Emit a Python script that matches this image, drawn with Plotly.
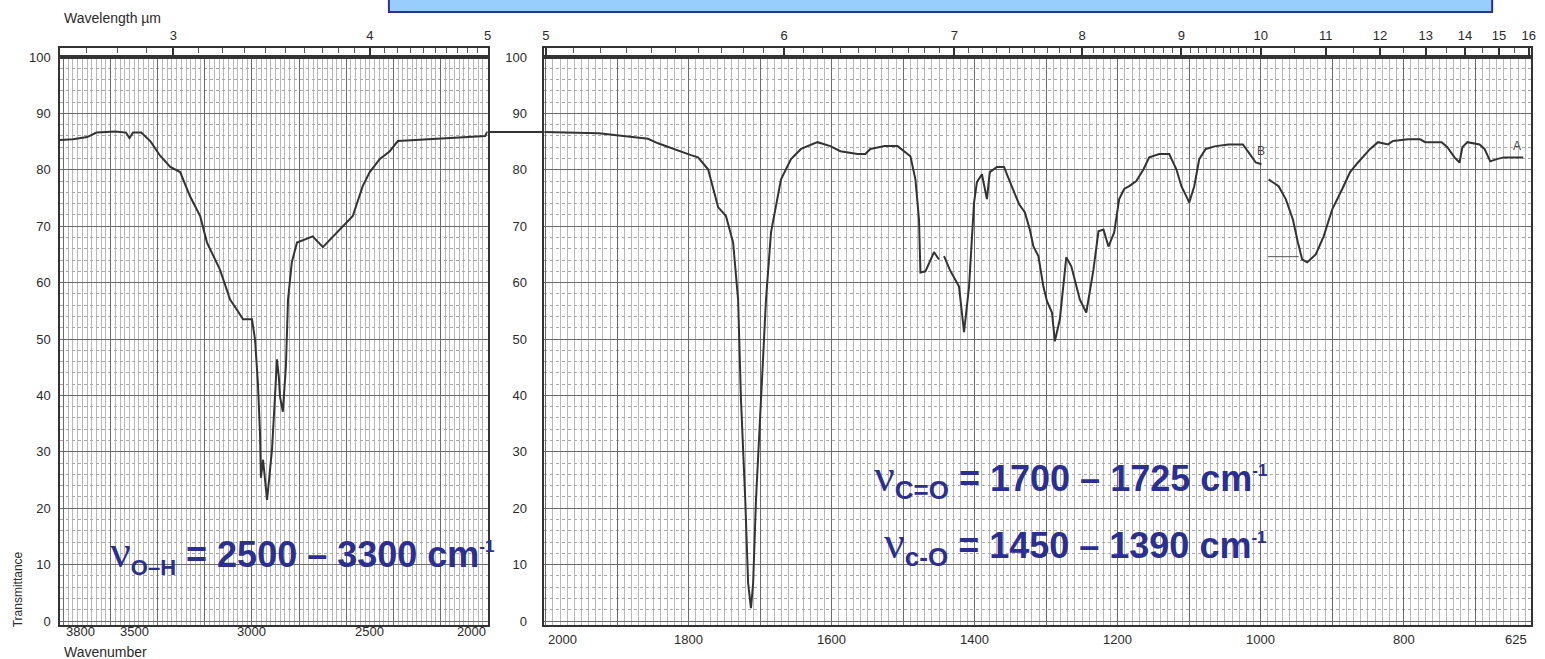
import plotly.graph_objects as go

# ---------------- data ----------------
# Left panel: 3815 - 2000 cm-1
left_wn = [3815, 3760, 3700, 3660, 3580, 3535, 3520, 3505, 3470, 3430, 3390, 3347,
           3305, 3263, 3220, 3191, 3136, 3093, 3064, 3038, 3000, 2987, 2975, 2966,
           2962, 2953, 2936, 2915, 2903, 2894, 2886, 2881, 2869, 2856, 2847, 2831,
           2809, 2742, 2699, 2640, 2572, 2530, 2500, 2458, 2415, 2381, 2174, 2010, 2002]
left_T = [85.3, 85.4, 85.8, 86.6, 86.8, 86.6, 85.6, 86.6, 86.6, 85.0, 82.5, 80.5,
          79.6, 75.3, 71.8, 67.1, 62.3, 57.0, 55.2, 53.5, 53.5, 49.9, 42.3, 33.4,
          25.4, 28.6, 21.5, 30.4, 39.3, 46.4, 43.3, 39.8, 37.1, 45.1, 57.0, 63.6,
          67.1, 68.2, 66.3, 68.9, 71.8, 77.1, 79.6, 81.9, 83.3, 85.1, 85.6, 86.0, 86.7]

# Right panel: 2000 - 625 cm-1 (None = pen breaks)
right_wn = [2002, 1926, 1857, 1843, 1797, 1787, 1773, 1766, 1759, 1748, 1738, 1731,
            1727, 1721, 1717, 1713, 1710, 1706, 1699, 1692, 1685, 1671, 1657, 1643,
            1620, 1602, 1588, 1564, 1553, 1546, 1526, 1508, 1490, 1483, 1478, 1476,
            1469, 1457, 1450, None,
            1443, 1435, 1422, 1415, 1408, 1401, 1397, 1390, 1383, 1379, 1369, 1359,
            1355, 1345, 1338, 1330, 1323, 1318, 1311, 1304, 1299, 1292, 1288, 1281,
            1272, 1265, 1253, 1244, 1234, 1227, 1220, 1213, 1205, 1198, 1191, 1184,
            1174, 1164, 1156, 1142, 1128, 1118, 1111, 1104, 1100, 1093, 1086, 1077,
            1063, 1045, 1025, 1017, 1007, 999, None,
            989, 975, 965, 955, 948, 942, 935, 923, 912, 900, 886, 875, 864, 847,
            836, 822, 815, 794, 777, 770, 747, 739, 729, 722, 718, 711, 694, 687,
            679, 670, 660, 633]
right_T = [86.7, 86.5, 85.5, 84.7, 82.6, 82.2, 80.1, 76.6, 73.4, 71.8, 67.1, 57.0,
           39.3, 21.5, 6.7, 2.3, 6.7, 21.5, 39.3, 57.0, 68.9, 78.3, 81.9, 83.7,
           84.9, 84.2, 83.3, 82.8, 82.8, 83.7, 84.2, 84.2, 82.4, 78.3, 71.2, 61.8,
           62.0, 65.4, 64.1, None,
           64.7, 62.3, 59.3, 51.2, 59.3, 74.2, 77.8, 79.2, 74.8, 79.6, 80.5, 80.5,
           79.2, 76.0, 73.9, 72.5, 69.4, 66.4, 64.7, 59.3, 56.7, 54.7, 49.6, 53.5,
           64.5, 62.9, 57.0, 54.7, 62.3, 69.1, 69.4, 66.4, 68.9, 74.8, 76.6, 77.1,
           78.0, 80.1, 82.2, 82.8, 82.8, 80.1, 77.1, 75.3, 74.2, 77.1, 81.9, 83.7,
           84.2, 84.5, 84.5, 83.1, 81.3, 81.0, None,
           78.3, 77.1, 74.8, 71.2, 67.1, 64.1, 63.6, 65.0, 68.2, 73.0, 76.6, 79.6, 81.3, 83.7,
           84.9, 84.5, 85.1, 85.4, 85.4, 84.9, 84.9, 84.0, 82.2, 81.3, 84.0, 84.9, 84.5, 83.7,
           81.5, 81.9, 82.2, 82.2]

bridge_T = 86.7                      # pen line crossing the gap between panels
marker_wn = [990, 947]               # short reference line under the 950 band
marker_T = [64.6, 64.6]

left_range = [3815, 2000]
right_range = [2002, 622]
y_range = [-0.7, 100]

left_wn_labels = [3800, 3500, 3000, 2500, 2000]
right_wn_labels = [2000, 1800, 1600, 1400, 1200, 1000, 800, 625]
left_um = [3, 4, 5]
right_um = [5, 6, 7, 8, 9, 10, 11, 12, 13, 14, 15, 16]
left_um_minor = [2.7, 2.8, 2.9, 3.1, 3.2, 3.3, 3.4, 3.5, 3.6, 3.7, 3.8, 3.9,
                 4.1, 4.2, 4.3, 4.4, 4.5, 4.6, 4.7, 4.8, 4.9]
right_um_minor = ([round(5 + 0.1 * i, 1) for i in range(1, 50) if (i % 10) != 0]
                  + [10.5, 11.5, 12.5, 13.5, 14.5, 15.5])
y_ticks = list(range(0, 101, 10))

# ---------------- styling ----------------
INK = "#333333"
BLUE = "#2b2f8f"
NUMFONT = dict(family="Liberation Sans, Arial, sans-serif", size=13, color="#2a2a2a")

# plot area in window pixels: x 60..1536, y 48..625 (tick strip 48..57)
L_DOM = [0.0, 0.29065]
R_DOM = [0.32927, 1.0]
STRIP = 1 - 9 / 577.0

fig = go.Figure()
fig.add_trace(go.Scatter(x=left_wn, y=left_T, xaxis="x", yaxis="y", mode="lines",
                         line=dict(color=INK, width=2), showlegend=False, hoverinfo="skip"))
fig.add_trace(go.Scatter(x=right_wn, y=right_T, xaxis="x2", yaxis="y2", mode="lines",
                         line=dict(color=INK, width=2), showlegend=False, hoverinfo="skip",
                         connectgaps=False))
fig.add_trace(go.Scatter(x=marker_wn, y=marker_T, xaxis="x2", yaxis="y2", mode="lines",
                         line=dict(color="#555555", width=1), showlegend=False, hoverinfo="skip"))
# empty traces so that the wavelength tick strips exist as subplots
fig.add_trace(go.Scatter(x=[], y=[], xaxis="x3", yaxis="y3", mode="lines",
                         showlegend=False, hoverinfo="skip"))
fig.add_trace(go.Scatter(x=[], y=[], xaxis="x4", yaxis="y4", mode="lines",
                         showlegend=False, hoverinfo="skip"))

common_x = dict(showticklabels=False, ticks="", zeroline=False, showline=True,
                linecolor=INK, linewidth=1.5, mirror=True, showgrid=True)
common_y = dict(range=y_range, domain=[0, STRIP], tickmode="array", tickvals=y_ticks,
                ticks="", showline=True, linecolor=INK, linewidth=1.5, mirror=True,
                zeroline=False, showgrid=True, gridcolor="#6a6a6a", gridwidth=1,
                tickfont=NUMFONT,
                minor=dict(dtick=2, tick0=0, showgrid=True, gridcolor="#a8a8a8",
                           gridwidth=0.8, griddash="dot"))
strip_y = dict(domain=[STRIP, 1], range=[0, 1], showticklabels=False, ticks="",
               showgrid=False, zeroline=False, showline=True, linecolor=INK,
               linewidth=1.5, mirror=True)
top_common = dict(side="top", ticks="inside", ticklen=9, tickwidth=2, tickcolor=INK,
                  showgrid=False, zeroline=False, showline=True, linecolor=INK, mirror=True,
                  linewidth=1.5, tickfont=NUMFONT, tickmode="array", ticklabelstandoff=1)

fig.update_layout(
    width=1545, height=659,
    margin=dict(l=60, r=9, t=48, b=34),
    paper_bgcolor="white", plot_bgcolor="white",
    showlegend=False,
    xaxis=dict(domain=L_DOM, range=left_range, anchor="y", dtick=200, tick0=2000,
               gridcolor="#6a6a6a", gridwidth=1,
               minor=dict(dtick=20, tick0=2000, showgrid=True, gridcolor="#b8b8b8", gridwidth=0.8),
               **common_x),
    xaxis2=dict(domain=R_DOM, range=right_range, anchor="y2", dtick=100, tick0=2000,
                gridcolor="#6a6a6a", gridwidth=1,
                minor=dict(dtick=10, tick0=2000, showgrid=True, gridcolor="#b8b8b8", gridwidth=0.8),
                **common_x),
    xaxis3=dict(domain=L_DOM, anchor="y3", range=left_range,
                tickvals=[1e4 / u for u in left_um], ticktext=[str(u) for u in left_um],
                minor=dict(tickvals=[1e4 / u for u in left_um_minor], ticks="inside",
                           ticklen=5, tickwidth=1, tickcolor="#555555"),
                **top_common),
    xaxis4=dict(domain=R_DOM, anchor="y4", range=right_range,
                tickvals=[1e4 / u for u in right_um], ticktext=[str(u) for u in right_um],
                minor=dict(tickvals=[1e4 / u for u in right_um_minor], ticks="inside",
                           ticklen=5, tickwidth=1, tickcolor="#555555"),
                **top_common),
    yaxis=dict(anchor="x", ticklabelstandoff=5, **common_y),
    yaxis2=dict(anchor="x2", ticklabelstandoff=13, **common_y),
    yaxis3=dict(anchor="x3", **strip_y),
    yaxis4=dict(anchor="x4", **strip_y),
)

# pen line bridging the two panels
fig.add_shape(type="line", xref="paper", yref="y", x0=L_DOM[1], x1=R_DOM[0],
              y0=bridge_T, y1=bridge_T, line=dict(color=INK, width=2))

# cut-off blue title box at the top
fig.add_shape(type="rect", xref="paper", yref="paper", x0=0.2236, x1=0.9736,
              y0=1.0624, y1=1.12, fillcolor="#99ccff", line=dict(color="#2e3192", width=2))

# wavenumber labels under the panels
for v in left_wn_labels:
    anchor = "left" if v == left_wn_labels[0] else ("right" if v == left_wn_labels[-1] else "center")
    fig.add_annotation(x=v, xref="x", y=0, yref="paper", yshift=-6, yanchor="middle",
                       xanchor=anchor, text=str(v), showarrow=False, font=NUMFONT)
for v in right_wn_labels:
    anchor = "left" if v == right_wn_labels[0] else ("right" if v == right_wn_labels[-1] else "center")
    fig.add_annotation(x=v, xref="x2", y=0, yref="paper", yshift=-14, yanchor="middle",
                       xanchor=anchor, text=str(v), showarrow=False, font=NUMFONT)

label_font = dict(family="Liberation Sans, Arial, sans-serif", size=14, color="#2a2a2a")
fig.add_annotation(text="Wavelength µm", xref="paper", yref="paper", x=0.0014, y=1.052,
                   xanchor="left", yanchor="middle", showarrow=False, font=label_font)
fig.add_annotation(text="Wavenumber", xref="paper", yref="paper", x=0.0014, y=-0.047,
                   xanchor="left", yanchor="middle", showarrow=False, font=label_font)
fig.add_annotation(text="Transmittance", xref="paper", yref="paper", x=-0.0285, y=0.062,
                   xanchor="center", yanchor="middle", textangle=-90, showarrow=False,
                   font=dict(family="Liberation Sans, Arial, sans-serif", size=12, color="#2a2a2a"))
fig.add_annotation(text="B", xref="x2", yref="y2", x=1000, y=83.3, showarrow=False,
                   font=dict(family="Liberation Sans, Arial", size=12, color="#444"))
fig.add_annotation(text="A", xref="x2", yref="y2", x=641, y=84.3, showarrow=False,
                   font=dict(family="Liberation Sans, Arial", size=12, color="#444"))

# blue assignments
big = dict(family="Liberation Sans, Arial, sans-serif", size=36, color=BLUE)
def nu_text(sub, rng, sub_size):
    return ("<span style='font-size:46px;font-family:Liberation Serif, Times New Roman, serif'>ν</span>"
            f"<sub><span style='font-size:{sub_size}px'><b>{sub}</b></span></sub>"
            f"<b> = {rng} cm</b><sup><span style='font-size:17px'><b>-1</b></span></sup>")

fig.add_annotation(text=nu_text("O–H", "2500 – 3300", 22), xref="paper", yref="paper",
                   x=0.0325, y=0.125, xanchor="left", yanchor="middle", showarrow=False, font=big)
fig.add_annotation(text=nu_text("C=O", "1700 – 1725", 26), xref="paper", yref="paper",
                   x=0.822, y=0.255, xanchor="right", yanchor="middle", showarrow=False, font=big)
fig.add_annotation(text=nu_text("c-O", "1450 – 1390", 26), xref="paper", yref="paper",
                   x=0.822, y=0.139, xanchor="right", yanchor="middle", showarrow=False, font=big)

# the page's default 8px body margin would shift the figure; remove it
fig.write_html("out.html", config={"displayModeBar": False},
               post_script="document.body.style.margin='0';")
